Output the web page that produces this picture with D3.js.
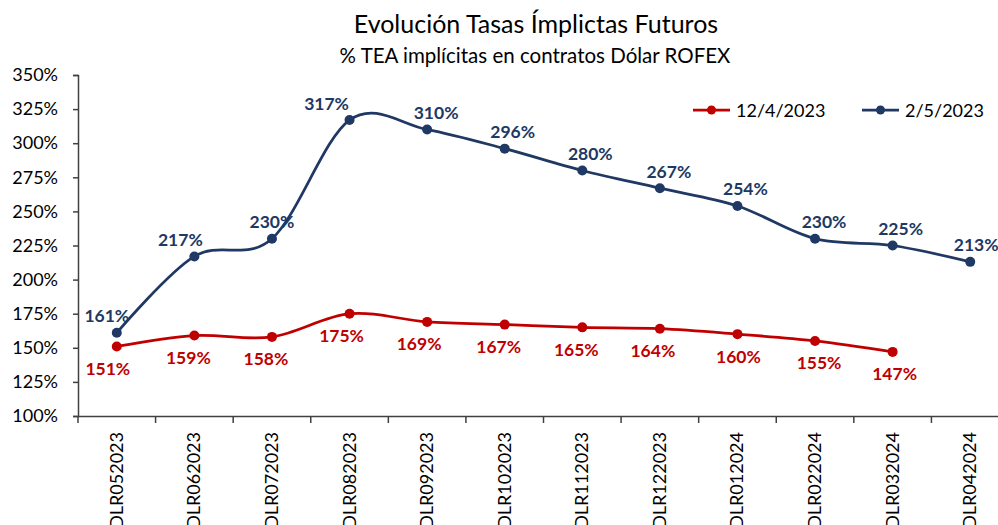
<!DOCTYPE html>
<html>
<head>
<meta charset="utf-8">
<script src="https://cdn.jsdelivr.net/npm/d3@7"></script>
<style>
  body { margin: 0; background: #fff; }
  svg { font-family: Lato, "Open Sans", sans-serif; }
</style>
</head>
<body>
<div id="chart"></div>
<script>
var categories = ["DLR052023", "DLR062023", "DLR072023", "DLR082023", "DLR092023", "DLR102023",
  "DLR112023", "DLR122023", "DLR012024", "DLR022024", "DLR032024", "DLR042024"];
var series1Name = "12/4/2023";
var series1 = [151, 159, 158, 175, 169, 167, 165, 164, 160, 155, 147, null];
var series2Name = "2/5/2023";
var series2 = [161, 217, 230, 317, 310, 296, 280, 267, 254, 230, 225, 213];
var yTicks = [100, 125, 150, 175, 200, 225, 250, 275, 300, 325, 350];

// label nudges (px) as placed in the original
var nudge1 = [-9, -6, -6, -8, -8, -6, -6, -7, 1, 4, 2, 0];
var nudge2 = [-10, -14, 0, -23, 9, 8, 8, 9, 8, 9, 8, 6];

var width = 998, height = 525;
var red = "#c00000", navy = "#203864", axisColor = "#404040";

var svg = d3.select("#chart").append("svg")
  .attr("width", width)
  .attr("height", height);

var x = d3.scaleBand().domain(categories).range([78, 1009]);
var y = d3.scaleLinear().domain([100, 350]).range([416, 75]);

// title
svg.append("text")
  .attr("x", 536).attr("y", 33)
  .attr("text-anchor", "middle")
  .attr("font-size", 25)
  .attr("fill", "#000")
  .text("Evolución Tasas Ímplictas Futuros");
svg.append("text")
  .attr("x", 535).attr("y", 63)
  .attr("text-anchor", "middle")
  .attr("font-size", 20.5)
  .attr("fill", "#000")
  .text("% TEA implícitas en contratos Dólar ROFEX");

// y axis
var yAxis = svg.append("g")
  .attr("transform", "translate(78,0)")
  .call(d3.axisLeft(y).tickValues(yTicks).tickSize(5).tickPadding(15)
    .tickFormat(function (d) { return d + "%"; }));
yAxis.selectAll("path, line").attr("stroke", axisColor).attr("stroke-width", 1.5);
yAxis.selectAll("text").attr("font-size", 18).attr("fill", "#000")
  .attr("font-family", "Lato, sans-serif");

// x axis
var xAxis = svg.append("g")
  .attr("transform", "translate(0,416)")
  .call(d3.axisBottom(x).tickSize(0).tickSizeOuter(0).tickFormat(""));
xAxis.select("path").attr("stroke", axisColor).attr("stroke-width", 1.5);
xAxis.selectAll(".tick").remove();

var bounds = categories.map(function (c) { return x(c); });
xAxis.selectAll("line.sep").data(bounds).enter().append("line")
  .attr("class", "sep")
  .attr("x1", function (d) { return d; }).attr("x2", function (d) { return d; })
  .attr("y1", 0).attr("y2", 7)
  .attr("stroke", axisColor).attr("stroke-width", 1.5);

svg.append("g").selectAll("text").data(categories).enter().append("text")
  .attr("transform", function (d) {
    return "translate(" + (x(d) + x.bandwidth() / 2 + 6) + ",432) rotate(-90)";
  })
  .attr("text-anchor", "end")
  .attr("font-size", 18)
  .attr("fill", "#000")
  .text(function (d) { return d; });

// lines
var line = d3.line()
  .defined(function (d) { return d.v != null; })
  .x(function (d) { return x(d.c) + x.bandwidth() / 2; })
  .y(function (d) { return y(d.v); })
  .curve(d3.curveCardinal.tension(0));

function drawSeries(values, color, nudge, dy) {
  var pts = categories.map(function (c, i) { return { c: c, v: values[i], n: nudge[i] }; });
  var g = svg.append("g");
  g.append("path")
    .datum(pts)
    .attr("d", line)
    .attr("fill", "none")
    .attr("stroke", color)
    .attr("stroke-width", 2.75);
  var valid = pts.filter(function (d) { return d.v != null; });
  g.selectAll("circle").data(valid).enter().append("circle")
    .attr("cx", function (d) { return x(d.c) + x.bandwidth() / 2; })
    .attr("cy", function (d) { return y(d.v); })
    .attr("r", 5)
    .attr("fill", color);
  g.selectAll("text").data(valid).enter().append("text")
    .attr("x", function (d) { return x(d.c) + x.bandwidth() / 2 + d.n; })
    .attr("y", function (d) { return y(d.v) + dy; })
    .attr("text-anchor", "middle")
    .attr("dominant-baseline", "central")
    .attr("font-size", 17.5)
    .attr("font-weight", "bold")
    .attr("fill", color)
    .text(function (d) { return d.v + "%"; });
}

drawSeries(series1, red, nudge1, 22);
drawSeries(series2, navy, nudge2, -17);

// legend
var legend = [
  { name: series1Name, color: red, x: 693 },
  { name: series2Name, color: navy, x: 862 }
];
var lg = svg.append("g").selectAll("g").data(legend).enter().append("g")
  .attr("transform", function (d) { return "translate(" + d.x + ",110)"; });
lg.append("line")
  .attr("x1", 0).attr("x2", 37).attr("y1", 0).attr("y2", 0)
  .attr("stroke", function (d) { return d.color; })
  .attr("stroke-width", 2.75);
lg.append("circle")
  .attr("cx", 18.5).attr("cy", 0).attr("r", 4.5)
  .attr("fill", function (d) { return d.color; });
lg.append("text")
  .attr("x", 43).attr("y", 0)
  .attr("dominant-baseline", "central")
  .attr("font-size", 18)
  .attr("fill", "#000")
  .text(function (d) { return d.name; });
</script>
</body>
</html>
